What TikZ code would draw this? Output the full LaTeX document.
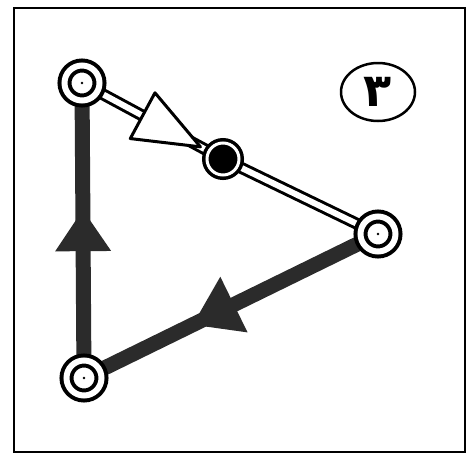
\documentclass[tikz,border=0pt]{standalone}
\usepackage{fontspec}
\usepackage{tikz}
\usetikzlibrary{calc, backgrounds, shapes.geometric}
\newfontfamily\arabicfont[Script=Arabic]{DejaVu Sans}
\definecolor{inkdark}{HTML}{2B2B2B}
\tikzset{
  ring/.style={circle, draw=black, fill=white, line width=4pt,
    double=white, double distance=6pt, minimum size=35pt, inner sep=0pt,
    path picture={\fill[black] (path picture bounding box.center) circle (1.4pt);}},
  solidring/.style={circle, draw=black, fill=black, line width=3.5pt,
    double=white, double distance=3pt, minimum size=32pt, inner sep=0pt},
  hollowline/.style={draw=black, line width=3pt, double=white, double distance=6pt},
  darkline/.style={draw=inkdark, line width=15pt},
  hollowtip/.style={draw=black, fill=white, line width=3pt, line join=round},
  darktip/.style={fill=inkdark}
}

\begin{document}
\begin{tikzpicture}[x=1pt, y=-1pt]
    \useasboundingbox (0,0) rectangle (469,456);
    \draw[line width=2pt] (14,8) rectangle (465,452);

    % stations
    \node[ring] (a) at (82,83) {};
    \node[solidring] (b) at (223,159) {};
    \node[ring] (c) at (378,234) {};
    \node[ring] (d) at (84,378) {};

    \node[ellipse, draw, line width=2.5pt, minimum width=74pt, minimum height=58pt, inner sep=0pt,
          font={\arabicfont\bfseries\fontsize{46}{46}\selectfont}] (num) at (378,92) {٣};

    % links
    \begin{scope}[on background layer]
      \draw[darkline] (d.center) -- (a.center);
      \draw[darkline] (c.center) -- (d.center);
      \draw[hollowline] (a.center) -- (b.center);
      \draw[hollowline] (b.center) -- (c.center);
    \end{scope}

    % direction marks
    \filldraw[hollowtip] ($(a)!0.84!(b)$) -- ($(a)!0.43!(b)!26pt!90:(b)$)
      -- ($(a)!0.43!(b)!26pt!-90:(b)$) -- cycle;
    \fill[darktip] ($(d)!0.57!(a)$) -- ($(d)!0.43!(a)!28pt!90:(a)$)
      -- ($(d)!0.43!(a)!28pt!-90:(a)$) -- cycle;
    \fill[darktip] ($(c)!0.63!(d)$) -- ($(c)!0.49!(d)!31pt!90:(d)$)
      -- ($(c)!0.49!(d)!31pt!-90:(d)$) -- cycle;
\end{tikzpicture}
\end{document}
